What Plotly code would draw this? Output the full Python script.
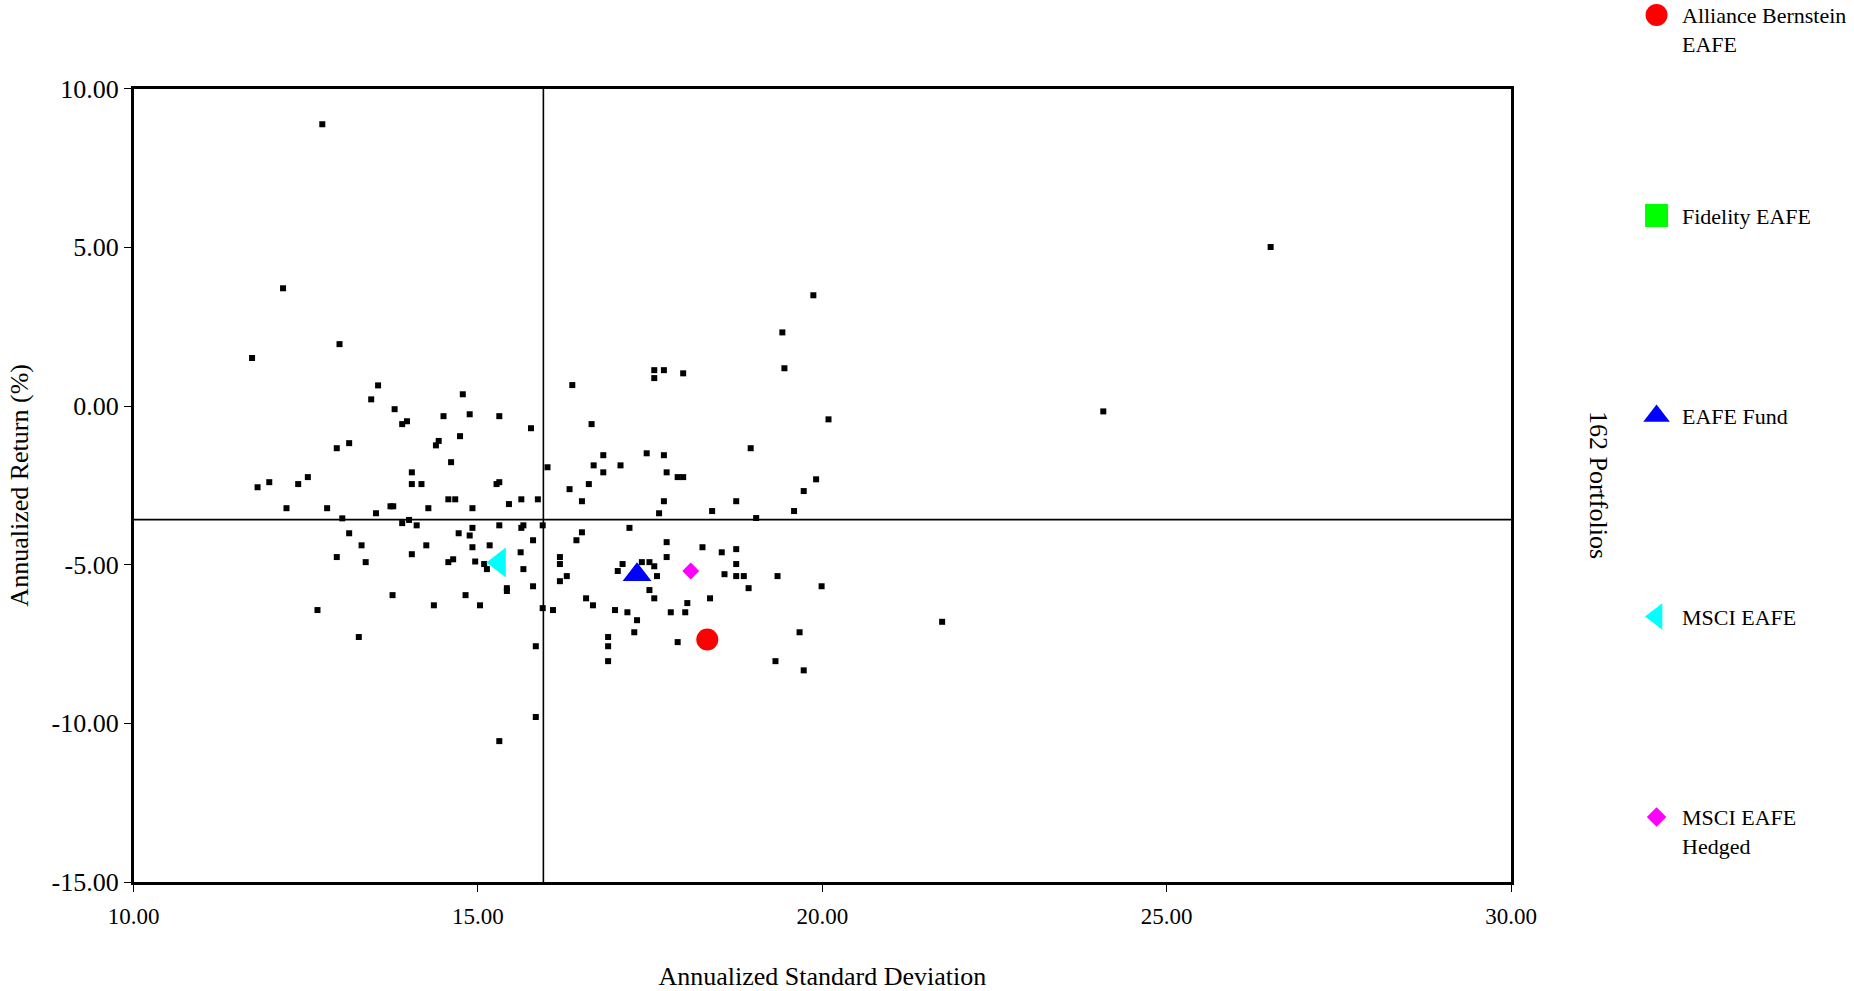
import plotly.graph_objects as go

# Risk / return of the 162 peer portfolios (annualized std dev, annualized return %)
portfolio_sd = [
    12.17, 11.72, 12.99, 13.55, 13.45, 13.79, 13.97, 13.90, 14.50, 14.78,
    14.74, 14.43, 14.39, 13.13, 12.95, 14.61, 14.04, 14.04, 14.18, 11.80,
    11.97, 12.39, 12.53, 12.22, 12.81, 13.03, 13.52, 13.73, 13.77, 14.28,
    14.57, 14.67, 13.90, 14.00, 14.11,
    14.88, 15.31, 15.77, 15.27, 15.31, 14.92, 15.45, 15.63, 15.87, 16.01,
    16.37, 16.65, 16.82, 16.68, 17.07, 16.82, 17.45, 17.70, 17.74, 17.90,
    17.98, 17.56, 17.70, 17.56, 17.98, 16.33, 16.61, 16.51, 17.70, 17.63,
    14.92, 15.31, 15.63, 15.66, 15.94, 17.20,
    19.87, 19.42, 19.45, 20.09, 18.96, 19.91, 19.73, 18.75, 18.40, 19.59,
    19.04,
    13.13, 13.31, 12.95, 13.37, 14.04, 14.25, 14.72, 14.57, 14.64, 13.76,
    14.36, 12.67, 13.27,
    14.88, 14.92, 15.17, 15.80, 15.62, 14.96, 15.09, 15.13, 15.66, 15.42,
    15.42, 15.80, 14.82, 15.03, 15.94, 16.09, 15.84, 15.84, 15.31, 16.51,
    16.43, 16.19, 16.19, 16.29, 16.19, 16.57, 16.67, 16.99, 17.17, 17.31,
    17.27, 16.89, 16.89, 16.89, 17.10, 17.03, 17.38, 17.49, 17.56, 17.60,
    17.49, 17.56, 17.74, 17.74, 17.80, 18.01, 18.04, 17.90,
    18.26, 18.54, 18.75, 18.75, 18.58, 18.75, 18.86, 19.35, 18.93, 19.99,
    18.37, 19.67, 19.32, 19.73,
    12.74, 26.51, 24.08, 21.74,
]
portfolio_ret = [
    3.71, 1.51, 1.95, 0.65, 0.21, -0.10, -0.48, -0.57, -0.32, 0.37,
    -0.95, -1.10, -1.24, -1.17, -1.33, -1.77, -2.09, -2.46, -2.46, -2.56,
    -2.40, -2.46, -2.24, -3.22, -3.22, -3.54, -3.38, -3.16, -3.16, -3.22,
    -2.94, -2.94, -3.69, -3.59, -3.76,
    -0.26, -0.32, -0.70, -2.46, -2.40, -3.22, -3.09, -2.94, -2.94, -1.93,
    0.66, -0.57, -1.55, -1.87, -1.87, -2.09, -1.49, -1.55, -2.09, -2.24,
    -2.24, 1.13, 1.13, 0.88, 1.03, -2.62, -2.46, -3.00, -3.00, -3.38,
    -3.84, -3.76, -3.84, -3.76, -3.76, -3.84,
    3.49, 2.32, 1.19, -0.42, -1.33, -2.31, -2.68, -3.00, -3.31, -3.31,
    -3.53,
    -4.01, -4.39, -4.76, -4.92, -4.67, -4.39, -4.01, -4.92, -4.83, -5.96,
    -6.28, -6.43, -7.28,
    -4.08, -4.45, -4.39, -4.23, -4.61, -4.90, -4.98, -5.14, -5.14, -5.74,
    -5.83, -5.68, -5.96, -6.28, -6.37, -6.43, -7.57, -9.80, -10.56, -3.98,
    -4.23, -4.76, -4.98, -5.36, -5.52, -6.06, -6.28, -6.43, -6.50, -6.75,
    -7.13, -7.28, -7.57, -8.04, -4.98, -5.20, -4.92, -4.92, -5.05, -5.36,
    -5.80, -6.06, -4.29, -4.76, -6.50, -6.50, -6.21, -7.44,
    -4.45, -4.61, -4.51, -4.98, -5.30, -5.36, -5.36, -5.36, -5.74, -5.68,
    -6.06, -7.13, -8.04, -8.33,
    8.88, 5.01, -0.17, -6.80,
]

# Highlighted funds and indices
fund_names = ["Alliance Bernstein<br>EAFE", "Fidelity EAFE", "EAFE Fund",
              "MSCI EAFE", "MSCI EAFE<br>Hedged"]
fund_sd = [18.33, None, 17.31, 15.31, 18.09]
fund_ret = [-7.36, None, -5.32, -4.93, -5.20]
fund_colors = ["#FF0000", "#00FF00", "#0000FF", "#00FFFF", "#FF00FF"]
fund_symbols = ["circle", "square", "triangle-up", "triangle-left", "diamond"]
fund_sizes = [22, 22, 25, 26, 13]

# Peer-group medians drawn as cross-hairs
median_sd = 15.95
median_ret = -3.58

x_ticks = [10, 15, 20, 25, 30]
x_tick_text = ["10.00", "15.00", "20.00", "25.00", "30.00"]
y_ticks = [-15, -10, -5, 0, 5, 10]
y_tick_text = ["-15.00", "-10.00", "-5.00", "0.00", "5.00", "10.00"]

SERIF = "Liberation Serif, Times New Roman, serif"
W, H = 1854, 991

fig = go.Figure()

fig.add_trace(go.Scatter(
    x=portfolio_sd, y=portfolio_ret, mode="markers",
    marker=dict(symbol="square", size=6, color="black", line=dict(width=0)),
    showlegend=False, hoverinfo="x+y",
))

for name, sx, ry, col, sym, sz in zip(fund_names, fund_sd, fund_ret,
                                      fund_colors, fund_symbols, fund_sizes):
    if sx is None:
        continue
    fig.add_trace(go.Scatter(
        x=[sx], y=[ry], mode="markers", name=name.replace("<br>", " "),
        marker=dict(symbol=sym, size=sz, color=col, line=dict(width=0)),
        showlegend=False,
    ))

# Key on the right: one slot per fund, evenly spaced on its own axis
slots = list(range(len(fund_names)))
key_sizes = [22, 23, 23, 23, 15]
for i, col, sym, sz in zip(slots, fund_colors, fund_symbols, key_sizes):
    fig.add_trace(go.Scatter(
        x=[0.29], y=[i], xaxis="x2", yaxis="y2", mode="markers",
        marker=dict(symbol=sym, size=sz, color=col, line=dict(width=0)),
        showlegend=False, hoverinfo="skip",
    ))

annotations = []
for i, name in zip(slots, fund_names):
    annotations.append(dict(
        x=0.375, y=i, xref="x2", yref="y2", text=name, showarrow=False,
        xanchor="left", yanchor="top", yshift=14, align="left",
        font=dict(family=SERIF, size=22, color="black"),
    ))
annotations.append(dict(
    x=1599 / W, y=1 - 485 / H, xref="paper", yref="paper",
    text="162 Portfolios", textangle=90, showarrow=False,
    xanchor="center", yanchor="middle",
    font=dict(family=SERIF, size=26, color="black"),
))

shapes = [
    dict(type="line", xref="x", yref="y", x0=median_sd, x1=median_sd,
         y0=y_ticks[0], y1=y_ticks[-1], line=dict(color="black", width=1.6)),
    dict(type="line", xref="x", yref="y", x0=x_ticks[0], x1=x_ticks[-1],
         y0=median_ret, y1=median_ret, line=dict(color="black", width=1.6)),
]

fig.update_layout(
    width=W, height=H,
    margin=dict(l=0, r=0, t=0, b=0, autoexpand=False),
    paper_bgcolor="white", plot_bgcolor="white",
    font=dict(family=SERIF, color="black"),
    showlegend=False,
    xaxis=dict(
        domain=[133.6 / W, 1511 / W], range=[x_ticks[0], x_ticks[-1]],
        tickvals=x_ticks, ticktext=x_tick_text, ticks="outside", ticklen=7,
        tickwidth=1.3, tickcolor="black", showgrid=False, zeroline=False,
        showline=True, linecolor="black", linewidth=2.5, mirror=True,
        automargin=False, ticklabelstandoff=5,
        tickfont=dict(family=SERIF, size=23, color="black"),
        title=dict(text="Annualized Standard Deviation", standoff=48,
                   font=dict(family=SERIF, size=26, color="black")),
    ),
    yaxis=dict(
        domain=[1 - 882 / H, 1 - 88.7 / H], range=[y_ticks[0], y_ticks[-1]],
        tickvals=y_ticks, ticktext=y_tick_text, ticks="outside", ticklen=7,
        tickwidth=1.3, tickcolor="black", showgrid=False, zeroline=False,
        showline=True, linecolor="black", linewidth=2.5, mirror=True,
        automargin=False,
        tickfont=dict(family=SERIF, size=26, color="black"),
        title=dict(text="Annualized Return (%)", standoff=16,
                   font=dict(family=SERIF, size=26, color="black")),
    ),
    xaxis2=dict(domain=[0.85, 1.0], range=[0, 1], visible=False,
                fixedrange=True),
    yaxis2=dict(domain=[0, 1], range=[(H - 15) / 200.5, -15 / 200.5],
                visible=False, fixedrange=True, anchor="x2"),
    annotations=annotations,
    shapes=shapes,
)

fig.write_html("out.html")
